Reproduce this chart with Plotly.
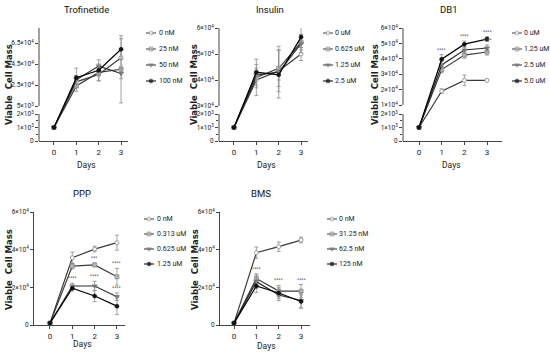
import plotly.graph_objects as go

# ---------------- data ----------------
DAYS = [0, 1, 2, 3]

TROF_TITLE = "Trofinetide"
TROF_LABELS = ["0 nM", "25 nM", "50 nM", "100 nM"]
TROF_MEAN = [[1000, 28000, 35000, 51000],
             [1000, 24000, 37000, 40000],
             [1000, 30000, 43000, 36000],
             [1000, 32000, 39000, 59000]]
TROF_SD = [[100, 5000, 6000, 8000],
           [100, 5000, 8000, 32000],
           [100, 4000, 6000, 5000],
           [100, 9000, 5000, 10000]]
TROF_YTICKS = [0, 1000, 2000, 5000, 25000, 45000, 65000]
TROF_YTEXT = ["0", "1×10<sup>3</sup>", "2×10<sup>3</sup>", "5×10<sup>3</sup>",
              "2.5×10<sup>4</sup>", "4.5×10<sup>4</sup>", "6.5×10<sup>4</sup>"]

INS_TITLE = "Insulin"
INS_LABELS = ["0 uM", "0.625 uM", "1.25 uM", "2.5 uM"]
INS_MEAN = [[1000, 40000, 43500, 50000],
            [1000, 41000, 44500, 54500],
            [1000, 42000, 43000, 54000],
            [1000, 43000, 42000, 56500]]
INS_SD = [[100, 3000, 8000, 2500],
          [100, 7000, 7000, 3000],
          [100, 4000, 10000, 3500],
          [100, 1500, 2000, 4000]]
INS_YTICKS = [0, 1000, 2000, 30000, 40000, 50000, 60000]
INS_YTEXT = ["0", "1×10<sup>3</sup>", "2×10<sup>3</sup>", "3×10<sup>4</sup>",
             "4×10<sup>4</sup>", "5×10<sup>4</sup>", "6×10<sup>4</sup>"]

DB1_TITLE = "DB1"
DB1_LABELS = ["0 uM", "1.25 uM", "2.5 uM", "5.0 uM"]
DB1_MEAN = [[1000, 19000, 26000, 26000],
            [1000, 33000, 42400, 44400],
            [1000, 36000, 45700, 47000],
            [1000, 39700, 49500, 52800]]
DB1_SD = [[100, 1500, 3500, 500],
          [100, 2000, 2000, 2000],
          [100, 2500, 2000, 2000],
          [100, 3000, 2000, 1500]]
DB1_YTICKS = [0, 1000, 2000, 10000, 20000, 30000, 40000, 50000, 60000]
DB1_YTEXT = ["0", "1×10<sup>3</sup>", "2×10<sup>3</sup>", "1×10<sup>4</sup>",
             "2×10<sup>4</sup>", "3×10<sup>4</sup>", "4×10<sup>4</sup>",
             "5×10<sup>4</sup>", "6×10<sup>4</sup>"]
DB1_STARS = [(3, 1, "****"), (3, 2, "****"), (3, 3, "****"), (2, 3, "****")]

PPP_TITLE = "PPP"
PPP_LABELS = ["0 nM", "0.313 uM", "0.625 uM", "1.25 uM"]
PPP_MEAN = [[1000, 35700, 40300, 43700],
            [1000, 31300, 31900, 25600],
            [1000, 20700, 20700, 15000],
            [1000, 19500, 15400, 10000]]
PPP_SD = [[300, 3000, 1500, 4000],
          [300, 1500, 1000, 4500],
          [300, 1500, 2500, 2000],
          [300, 1500, 3000, 4500]]
PPP_STARS = [(1, 2, "***"), (1, 3, "****"), (2, 1, "****"), (2, 2, "****"),
             (2, 3, "****")]

BMS_TITLE = "BMS"
BMS_LABELS = ["0 nM", "31.25 nM", "62.5 nM", "125 nM"]
BMS_MEAN = [[1000, 38400, 41600, 45100],
            [1000, 24700, 18000, 18000],
            [1000, 23000, 15900, 13000],
            [1000, 20700, 17000, 12500]]
BMS_SD = [[300, 3000, 2500, 1500],
          [300, 2500, 3000, 3500],
          [300, 3500, 3000, 4000],
          [300, 3500, 3000, 3500]]
BMS_STARS = [(1, 1, "****"), (1, 2, "****"), (1, 3, "****")]

LIN_YTICKS = [0, 20000, 40000, 60000]
LIN_YTEXT = ["0", "2×10<sup>4</sup>", "4×10<sup>4</sup>", "6×10<sup>4</sup>"]

# ---------------- styling / layout geometry ----------------
W, H = 550, 360
NARROW = "Liberation Sans Narrow, Roboto, Liberation Sans, sans-serif"
BOLDF = "DejaVu Sans, Arial, sans-serif"
AX = "#444444"
TXT = "#222222"

MARKERS = [
    dict(symbol="circle", size=4, color="white", line=dict(color="#9a9a9a", width=1)),
    dict(symbol="square", size=4, color="#b5b5b5", line=dict(color="#8a8a8a", width=0.8)),
    dict(symbol="triangle-down", size=4.5, color="#7a7a7a", line=dict(color="#6a6a6a", width=0.6)),
    dict(symbol="circle", size=4, color="#111111", line=dict(color="#111111", width=0.6)),
]
LINECOL = ["#3a3a3a", "#3a3a3a", "#2a2a2a", "#000000"]

PANELS = [
    dict(title=TROF_TITLE, labels=TROF_LABELS, mean=TROF_MEAN, sd=TROF_SD,
         yt=TROF_YTICKS, ytxt=TROF_YTEXT, stars=[],
         x0=39, x1=128, ytop=28, ybot=141, xr=[-0.67, 3.31],
         brk=(2000, 27, 5000, 35, 65000, 98),
         title_xy=(86, 9), ylab_xy=(9, 85), days_xy=(86, 165),
         leg_key=151, leg_txt=157, leg_rows=[33, 49, 65, 81]),
    dict(title=INS_TITLE, labels=INS_LABELS, mean=INS_MEAN, sd=INS_SD,
         yt=INS_YTICKS, ytxt=INS_YTEXT, stars=[],
         x0=219, x1=308, ytop=28, ybot=141, xr=[-0.67, 3.31],
         brk=(2000, 27, 30000, 35, 60000, 113),
         title_xy=(270, 9), ylab_xy=(194, 85), days_xy=(266, 165),
         leg_key=328, leg_txt=333, leg_rows=[33, 49, 65, 81]),
    dict(title=DB1_TITLE, labels=DB1_LABELS, mean=DB1_MEAN, sd=DB1_SD,
         yt=DB1_YTICKS, ytxt=DB1_YTEXT, stars=DB1_STARS,
         x0=403, x1=502, ytop=28, ybot=141, xr=[-0.706, 3.66],
         brk=(2000, 27, 10000, 36, 60000, 113),
         title_xy=(449, 9), ylab_xy=(375, 85), days_xy=(451, 165),
         leg_key=517, leg_txt=522, leg_rows=[33, 49, 65, 81]),
    dict(title=PPP_TITLE, labels=PPP_LABELS, mean=PPP_MEAN, sd=PPP_SD,
         yt=LIN_YTICKS, ytxt=LIN_YTEXT, stars=PPP_STARS,
         x0=34, x1=125, ytop=212, ybot=325, xr=[-0.716, 3.36],
         brk=None, yr=[0, 60000],
         title_xy=(82, 193), ylab_xy=(9, 270), days_xy=(82, 344),
         leg_key=149, leg_txt=155, leg_rows=[219, 234, 249, 264]),
    dict(title=BMS_TITLE, labels=BMS_LABELS, mean=BMS_MEAN, sd=BMS_SD,
         yt=LIN_YTICKS, ytxt=LIN_YTEXT, stars=BMS_STARS,
         x0=220, x1=310, ytop=212, ybot=325, xr=[-0.627, 3.40],
         brk=None, yr=[0, 60000],
         title_xy=(261, 193), ylab_xy=(195, 270), days_xy=(266, 346),
         leg_key=332, leg_txt=337, leg_rows=[219, 234, 249, 264]),
]


def make_transform(brk):
    if brk is None:
        return lambda v: v
    lo_max, lo_h, up_min, up_d0, up_ref, up_dref = brk

    def T(v):
        if v <= lo_max:
            return v / lo_max * lo_h
        return up_d0 + (v - up_min) / (up_ref - up_min) * (up_dref - up_d0)
    return T


fig = go.Figure()
annotations = []
shapes = []
layout_axes = {}


def px_x(p):
    return p / W


def px_y(p):
    return 1 - p / H


for i, P in enumerate(PANELS, start=1):
    xa = "x" if i == 1 else f"x{i}"
    ya = "y" if i == 1 else f"y{i}"
    xkey = "xaxis" if i == 1 else f"xaxis{i}"
    ykey = "yaxis" if i == 1 else f"yaxis{i}"
    T = make_transform(P["brk"])

    for s in range(4):
        m = P["mean"][s]
        sd = P["sd"][s]
        ym = [T(v) for v in m]
        up = [T(v + e) - T(v) for v, e in zip(m, sd)]
        dn = [T(v) - T(max(v - e, 0)) for v, e in zip(m, sd)]
        fig.add_trace(go.Scatter(
            x=DAYS, y=ym, mode="lines+markers", xaxis=xa, yaxis=ya,
            name=P["labels"][s], showlegend=False,
            line=dict(color=LINECOL[s], width=1.2),
            marker=MARKERS[s],
            error_y=dict(type="data", symmetric=False, array=up, arrayminus=dn,
                         color="#8c8c8c", thickness=0.8, width=2),
        ))

    for (s, d, txt) in P["stars"]:
        v = P["mean"][s][d] + P["sd"][s][d]
        annotations.append(dict(x=DAYS[d], y=T(v), xref=xa, yref=ya, text=txt,
                                showarrow=False, yanchor="bottom", yshift=0,
                                font=dict(size=5, color="#555555", family=NARROW)))

    xdom = [px_x(P["x0"]), px_x(P["x1"])]
    ydom = [px_y(P["ybot"]), px_y(P["ytop"])]
    layout_axes[xkey] = dict(
        domain=xdom, range=P["xr"], anchor=ya, showgrid=False, zeroline=False,
        showline=True, linecolor=AX, linewidth=1, ticks="outside", ticklen=3,
        tickcolor=AX, tickwidth=1, tickmode="array", tickvals=DAYS,
        ticktext=[str(d) for d in DAYS],
        tickfont=dict(size=8, family=NARROW, color=TXT), fixedrange=True,
    )
    yax = dict(
        domain=ydom, anchor=xa, showgrid=False, zeroline=False,
        ticks="outside", ticklen=3, tickcolor=AX, tickwidth=1,
        tickmode="array", tickvals=[T(v) for v in P["yt"]], ticktext=P["ytxt"],
        tickfont=dict(size=6.5, family=NARROW, color=TXT), fixedrange=True,
    )
    if P["brk"] is None:
        yax.update(range=P["yr"], showline=True, linecolor=AX, linewidth=1)
    else:
        lo_max, lo_h, up_min, up_d0, up_ref, up_dref = P["brk"]
        top = P["ybot"] - P["ytop"]
        yax.update(range=[0, top], showline=False,
                   minor=dict(tickmode="array",
                              tickvals=[T(lo_max * 0.25), T(lo_max * 0.75)],
                              ticks="outside", ticklen=2, tickcolor=AX, tickwidth=1))
        for (a, b) in [(0, lo_h), (up_d0, top)]:
            shapes.append(dict(type="line", xref=f"{xa} domain", yref=ya,
                               x0=0, x1=0, y0=a, y1=b,
                               line=dict(color=AX, width=1)))
    layout_axes[ykey] = yax

    annotations.append(dict(x=px_x(P["title_xy"][0]), y=px_y(P["title_xy"][1]),
                            xref="paper", yref="paper", text=P["title"],
                            showarrow=False, xanchor="center", yanchor="middle",
                            font=dict(size=9.5, family=NARROW, color="#111111")))
    annotations.append(dict(x=px_x(P["ylab_xy"][0]), y=px_y(P["ylab_xy"][1]),
                            xref="paper", yref="paper",
                            text="<b>Viable\u00a0\u00a0Cell\u00a0Mass</b>",
                            textangle=-90, showarrow=False,
                            xanchor="center", yanchor="middle",
                            font=dict(size=8.5, family=BOLDF, color="#222222")))
    annotations.append(dict(x=px_x(P["days_xy"][0]), y=px_y(P["days_xy"][1]),
                            xref="paper", yref="paper", text="Days",
                            showarrow=False, xanchor="center", yanchor="middle",
                            font=dict(size=8.5, family=NARROW, color=TXT)))

    # custom legend: key glyph on an overlay pixel axis, text as annotation
    for s in range(4):
        ry = P["leg_rows"][s]
        kx = P["leg_key"]
        fig.add_trace(go.Scatter(
            x=[kx - 5, kx, kx + 5], y=[ry, ry, ry], mode="lines+markers",
            xaxis="x6", yaxis="y6", showlegend=False, hoverinfo="skip",
            line=dict(color=LINECOL[s], width=1),
            marker=dict(MARKERS[s], size=[0, MARKERS[s]["size"], 0]),
        ))
        annotations.append(dict(x=px_x(P["leg_txt"]), y=px_y(ry), xref="paper",
                                yref="paper", text=P["labels"][s], showarrow=False,
                                xanchor="left", yanchor="middle",
                                font=dict(size=7, family=NARROW, color=TXT)))

layout_axes["xaxis6"] = dict(domain=[0, 1], range=[0, W], visible=False,
                             fixedrange=True, anchor="y6")
layout_axes["yaxis6"] = dict(domain=[0, 1], range=[H, 0], visible=False,
                             fixedrange=True, anchor="x6")

fig.update_layout(
    width=W, height=H, margin=dict(l=0, r=0, t=0, b=0),
    template="none", paper_bgcolor="white", plot_bgcolor="rgba(0,0,0,0)",
    showlegend=False, annotations=annotations, shapes=shapes,
    **layout_axes,
)

fig.write_html(
    "out.html",
    config={"displayModeBar": False},
    post_script="document.body.style.margin='0';document.body.style.padding='0';"
                "document.documentElement.style.overflow='hidden';",
)
